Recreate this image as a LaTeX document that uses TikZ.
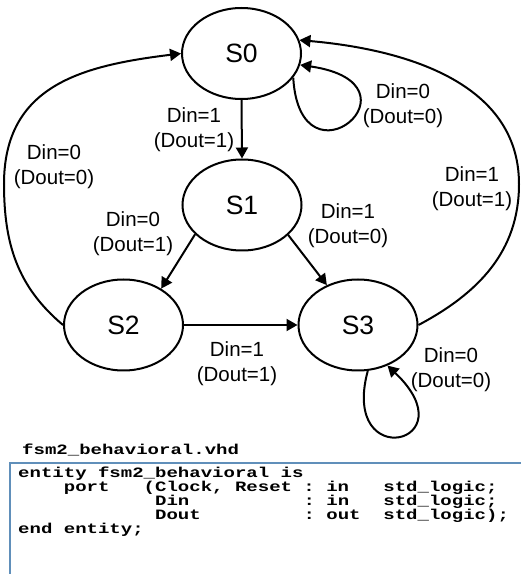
\documentclass[tikz,border=0pt]{standalone}
\usepackage{fontspec}
\setmainfont{Liberation Sans}
\newfontfamily\codefont[FakeStretch=1.33]{Liberation Mono}
\usetikzlibrary{arrows.meta,shapes.geometric}
\definecolor{boxblue}{RGB}{96,143,186}
\begin{document}
\begin{tikzpicture}[x=1pt,y=1pt,
  state/.style={ellipse,draw,line width=2pt,minimum width=119pt,minimum height=91pt,inner sep=0pt,font=\fontsize{26.5}{30}\selectfont},
  edge/.style={line width=2pt,-{Triangle[length=11pt,width=12pt]}},
  lbl/.style={align=center,font=\fontsize{20.5}{25}\selectfont,inner sep=0pt},
  code/.style={anchor=base west,inner sep=0pt,text height=10pt,text depth=2.5pt,font=\codefont\bfseries\fontsize{14.3}{14}\selectfont}]
\useasboundingbox (0,0) rectangle (521,574);
% states
\node[state] (S0) at (241.5,520.5) {S0};
\node[state] (S1) at (242,369) {S1};
\node[state] (S2) at (123.5,249) {S2};
\node[state] (S3) at (358,249) {S3};
\coordinate (L) at (4,390);
\coordinate (R) at (519,390);
% transitions
\draw[edge] (S0.south) -- (S1.north);
\draw[edge] (S1.212) -- (S2.44);
\draw[edge] (S1.327) -- (S3.128);
\draw[edge] (S2.east) -- (S3.west);
\draw[edge] (S0.335) .. controls (300,380) and (430,490) .. (S0.349);
\draw[edge] (S3.282) .. controls (340,100) and (470,130) .. (S3.306);
\draw[edge] (S3.east) to[out=28,in=-90] (R) to[out=90,in=-5] (S0.13);
\draw[edge] (S2.west) to[out=140,in=-90] (L) to[out=90,in=187,looseness=1.15] (S0.west);
% labels
\node[lbl] (l01) at (194,444) {Din=1\\(Dout=1)};
\node[lbl] (l00) at (403,468) {Din=0\\(Dout=0)};
\node[lbl] (l20) at (54,407) {Din=0\\(Dout=0)};
\node[lbl] (l30) at (472,385) {Din=1\\(Dout=1)};
\node[lbl] (l12) at (133,340) {Din=0\\(Dout=1)};
\node[lbl] (l13) at (348,348) {Din=1\\(Dout=0)};
\node[lbl] (l23) at (237,210) {Din=1\\(Dout=1)};
\node[lbl] (l33) at (451,204) {Din=0\\(Dout=0)};
% code box
\draw[boxblue,line width=2pt] (10,0) -- (10,111) -- (521,111);
\node[code] (title) at (22,119) {fsm2\_behavioral.vhd};
\node[code] (c1) at (18,96) {entity fsm2\_behavioral is};
\node[code] (c2) at (18,82) {~~~~port~~~(Clock,~Reset~:~in~~~std\_logic;};
\node[code] (c3) at (18,68) {~~~~~~~~~~~~Din~~~~~~~~~~:~in~~~std\_logic;};
\node[code] (c4) at (18,54) {~~~~~~~~~~~~Dout~~~~~~~~~:~out~~std\_logic);};
\node[code] (c5) at (18,40) {end entity;};
\end{tikzpicture}
\end{document}
